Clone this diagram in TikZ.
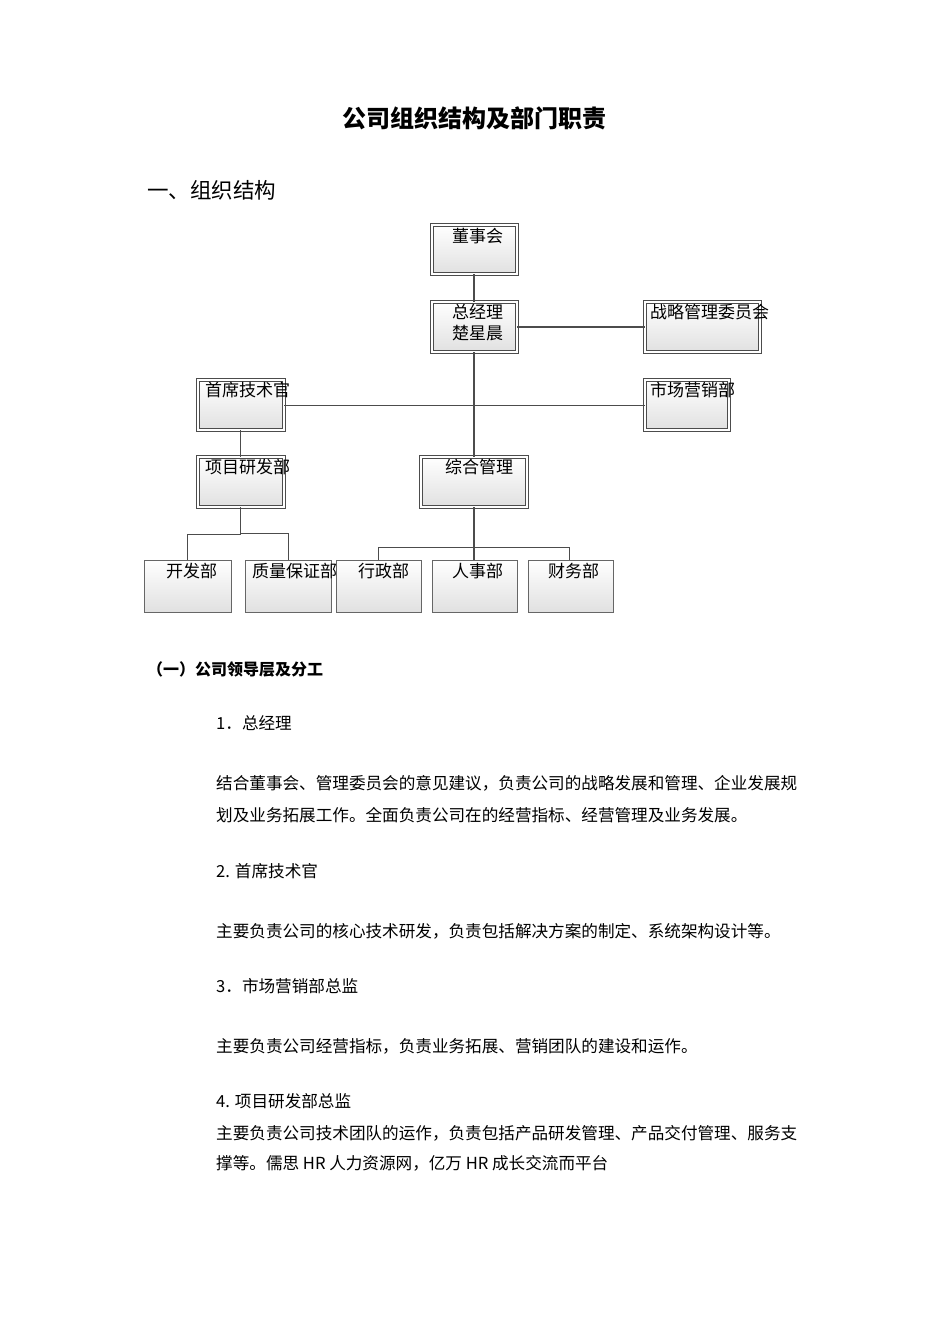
\documentclass[tikz,border=0pt]{standalone}
\usepackage{fontspec}
\setmainfont{Noto Sans CJK SC}
\begin{document}
\begin{tikzpicture}[x=1pt,y=-1pt,
  dbox/.style={draw=black!70,double=white,double distance=1.6pt,line width=0.8pt,top color=white,bottom color=black!12},
  sbox/.style={draw=black!60,line width=0.6pt,top color=white,bottom color=black!12},
  lbl/.style={anchor=north west,inner sep=0pt,font=\fontsize{17}{21}\selectfont},
  ln/.style={line width=1.6pt,draw=black!70},
  tn/.style={line width=0.8pt,draw=black!70},
  txt/.style={anchor=west,inner sep=0pt,font=\fontsize{16.6}{19}\selectfont}]
\useasboundingbox (0,0) rectangle (950,1344);
% boxes
\draw[dbox] (432,225) rectangle (517,274); \node[lbl] (t1) at (452,228) {董事会};
\coordinate (b1) at (474,274);
\draw[dbox] (432,302) rectangle (517,352); \node[lbl,align=left] (t2) at (452,304) {总经理\\楚星晨};
\coordinate (g1) at (474,302); \coordinate (g2) at (474,352); \coordinate (g3) at (517,327);
\draw[dbox] (645,302) rectangle (760,352); \node[lbl] (t3) at (650,304) {战略管理委员会};
\coordinate (s1) at (645,327);
\draw[dbox] (198,380) rectangle (284,430); \node[lbl] (t4) at (205,382) {首席技术官};
\coordinate (c1) at (284,405); \coordinate (c2) at (240,430);
\draw[dbox] (645,380) rectangle (729,430); \node[lbl] (t5) at (650,382) {市场营销部};
\coordinate (m1) at (645,405);
\draw[dbox] (198,457) rectangle (284,507); \node[lbl] (t6) at (205,459) {项目研发部};
\coordinate (p1) at (240,457); \coordinate (p2) at (240,507);
\draw[dbox] (421,457) rectangle (527,507); \node[lbl] (t7) at (445,459) {综合管理};
\coordinate (z1) at (474,457); \coordinate (z2) at (474,507);
\draw[sbox] (144,560) rectangle (231,612); \node[lbl] (u1) at (166,563) {开发部};
\draw[sbox] (245,560) rectangle (331,612); \node[lbl] (u2) at (252,563) {质量保证部};
\draw[sbox] (336,560) rectangle (421,612); \node[lbl] (u3) at (358,563) {行政部};
\draw[sbox] (432,560) rectangle (517,612); \node[lbl] (u4) at (452,563) {人事部};
\draw[sbox] (528,560) rectangle (613,612); \node[lbl] (u5) at (548,563) {财务部};
% connectors
\draw[ln] (b1) -- (g1);
\draw[ln] (g3) -- (s1);
\draw[ln] (g2) -- (z1);
\draw[tn] (c1) -- (m1);
\draw[tn] (c2) -- (p1);
\draw[tn] (p2) -- (240,534) -| (187,560);
\draw[tn] (240,533) -| (288,560);
\draw[ln] (z2) -- (474,560);
\draw[tn] (378,560) |- (569,547) -- (569,560);
% text
\node[anchor=center,font=\bfseries\fontsize{24}{28}\selectfont] (title) at (474,118) {公司组织结构及部门职责};
\node[anchor=west,inner sep=0pt,font=\fontsize{21.5}{26}\selectfont] (h1) at (147,190) {一、组织结构};
\node[anchor=west,inner sep=0pt,font=\bfseries\fontsize{16}{19}\selectfont] (h2) at (147,669) {（一）公司领导层及分工};
\node[txt] at (216,723) {1．总经理};
\node[txt] at (216,783) {结合董事会、管理委员会的意见建议，负责公司的战略发展和管理、企业发展规};
\node[txt] at (216,815) {划及业务拓展工作。全面负责公司在的经营指标、经营管理及业务发展。};
\node[txt] at (216,871) {2. 首席技术官};
\node[txt] at (216,931) {主要负责公司的核心技术研发，负责包括解决方案的制定、系统架构设计等。};
\node[txt] at (216,986) {3．市场营销部总监};
\node[txt] at (216,1046) {主要负责公司经营指标，负责业务拓展、营销团队的建设和运作。};
\node[txt] at (216,1101) {4. 项目研发部总监};
\node[txt] at (216,1133) {主要负责公司技术团队的运作，负责包括产品研发管理、产品交付管理、服务支};
\node[txt] at (216,1163) {撑等。儒思 HR 人力资源网，亿万 HR 成长交流而平台};
\end{tikzpicture}
\end{document}
